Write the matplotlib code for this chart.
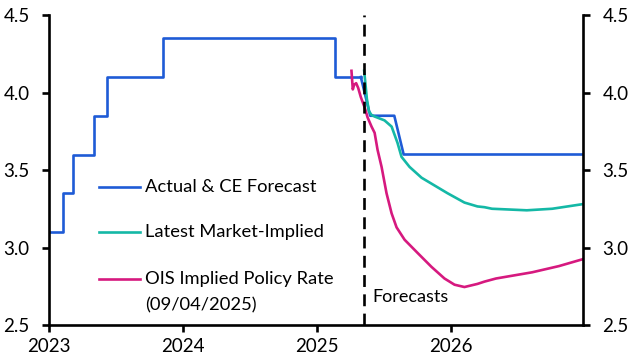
import matplotlib.pyplot as plt
from matplotlib.lines import Line2D

plt.rcParams['font.family'] = ['Lato', 'DejaVu Sans']

# Actual cash rate (step changes), decimal years
actual_dates = [2023.0, 2023.104, 2023.18, 2023.336, 2023.43, 2023.85, 2025.134, 2025.33]
actual_rate = [3.1, 3.35, 3.6, 3.85, 4.1, 4.35, 4.1, 4.1]

# CE forecast path
fcst_dates = [2025.33, 2025.40, 2025.58, 2025.65, 2026.99]
fcst_rate = [4.1, 3.85, 3.85, 3.6, 3.6]

# Latest market-implied
mkt_dates = [2025.355, 2025.365, 2025.375, 2025.39, 2025.41, 2025.433, 2025.507, 2025.56,
             2025.604, 2025.634, 2025.694, 2025.784, 2025.881, 2025.978, 2026.104, 2026.201,
             2026.254, 2026.31, 2026.57, 2026.76, 2026.99]
mkt_rate = [4.14, 4.05, 3.96, 3.88, 3.855, 3.845, 3.82, 3.78,
            3.675, 3.585, 3.52, 3.45, 3.40, 3.35, 3.29, 3.265,
            3.26, 3.25, 3.24, 3.25, 3.28]

# OIS implied policy rate as of 09/04/2025
ois_dates = [2025.26, 2025.27, 2025.28, 2025.295, 2025.31, 2025.33, 2025.36, 2025.38,
             2025.41, 2025.433, 2025.455, 2025.485, 2025.522, 2025.56, 2025.597, 2025.657,
             2025.754, 2025.858, 2025.955, 2026.03, 2026.104, 2026.201, 2026.254, 2026.34,
             2026.61, 2026.81, 2026.99]
ois_rate = [4.14, 4.02, 4.05, 4.06, 4.03, 3.97, 3.90, 3.84,
            3.78, 3.74, 3.63, 3.52, 3.35, 3.22, 3.13, 3.05,
            2.965, 2.875, 2.80, 2.76, 2.745, 2.765, 2.78, 2.80,
            2.84, 2.88, 2.925]

forecast_start = 2025.35

blue = '#1e5bd6'
teal = '#14b8a6'
pink = '#d6197f'

fig = plt.figure(figsize=(6.33, 3.63), dpi=100)
ax = fig.add_axes([49 / 633, 1 - 325 / 363, 534 / 633, 310 / 363])

lw = 1.9
ax.plot(actual_dates, actual_rate, color=blue, lw=lw, drawstyle='steps-post')
ax.plot(fcst_dates, fcst_rate, color=blue, lw=lw)
ax.plot(mkt_dates, mkt_rate, color=teal, lw=lw)
ax.plot(ois_dates, ois_rate, color=pink, lw=lw)
ax.axvline(forecast_start, color='black', lw=1.9, dashes=(4.5, 2.8))

ax.text(forecast_start + 0.065, 2.68, 'Forecasts', fontsize=13, va='center', ha='left')

ax.set_xlim(2023, 2026.99)
ax.set_ylim(2.5, 4.5)
ax.set_xticks([2023, 2024, 2025, 2026])
ax.set_xticklabels(['2023', '2024', '2025', '2026'])
ax.set_yticks([2.5, 3.0, 3.5, 4.0, 4.5])
ax.set_yticklabels(['2.5', '3.0', '3.5', '4.0', '4.5'])

ax.spines['top'].set_visible(False)
for s in ['left', 'right', 'bottom']:
    ax.spines[s].set_linewidth(1.9)
ax.tick_params(axis='both', direction='out', length=5, width=1.9, labelsize=13.5)
ax.tick_params(axis='y', left=True, right=True, labelleft=True, labelright=True, pad=9)
ax.tick_params(axis='x', pad=4)

# legend drawn by hand so the handle sits on the first text line
labels = ['Actual & CE Forecast', 'Latest Market-Implied', 'OIS Implied Policy Rate']
colors = [blue, teal, pink]
rows = [0.445, 0.300, 0.148]
for lab, c, y in zip(labels, colors, rows):
    ax.add_line(Line2D([0.0936, 0.170], [y, y], transform=ax.transAxes, color=c, lw=lw))
    ax.text(0.18, y, lab, transform=ax.transAxes, fontsize=13.2, va='center', ha='left')
ax.text(0.18, 0.0645, '(09/04/2025)', transform=ax.transAxes, fontsize=13.2, va='center', ha='left')

fig.savefig('out.png', dpi=100)
